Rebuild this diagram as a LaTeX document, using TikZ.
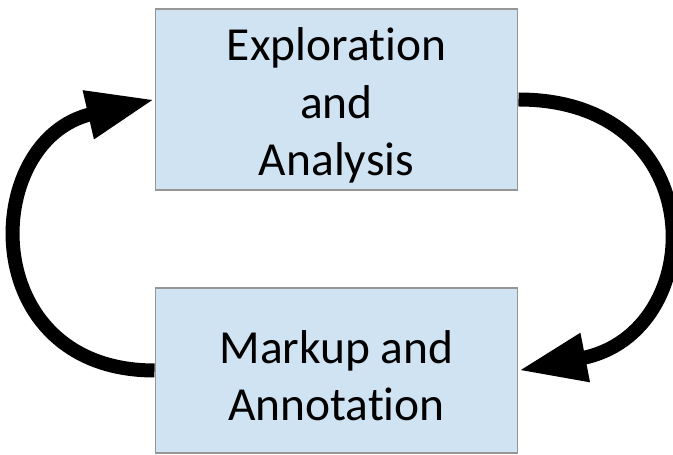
\documentclass[tikz,border=0pt]{standalone}
\usepackage{fontspec}
\setmainfont{Carlito}[Ligatures = NoCommon]
\usetikzlibrary{arrows.meta}
\definecolor{stagefill}{RGB}{207,227,242}
\definecolor{stageline}{RGB}{150,150,150}

\begin{document}
\begin{tikzpicture}[x = 0.02cm, y = -0.02cm,
    stage/.style = {draw = stageline, fill = stagefill, line width = 0.6pt,
       minimum width = 7.26cm, align = center, inner sep = 0pt,
       font = \fontsize{27}{32.6}\selectfont},
    loop/.style = {line width = 0.28cm,
       -{Triangle[length = 1.36cm, width = 0.92cm]}}]
\useasboundingbox (0, 0) rectangle (673, 455);
\node[stage, minimum height = 3.62cm] (explore) at (336.5, 99.5) {\rule{0pt}{25.5pt}Exploration\\and\\Analysis};
\node[stage, minimum height = 3.3cm] (markup) at (336.5, 370.5) {\rule{0pt}{24.5pt}Markup and\\Annotation};
\draw [loop, out = 0, in = 11, looseness = 1.85] (explore.east) to (markup.east);
\draw [loop, out = 180, in = 193, looseness = 1.7] (markup.west) to (explore.west);
\end{tikzpicture}
\end{document}
